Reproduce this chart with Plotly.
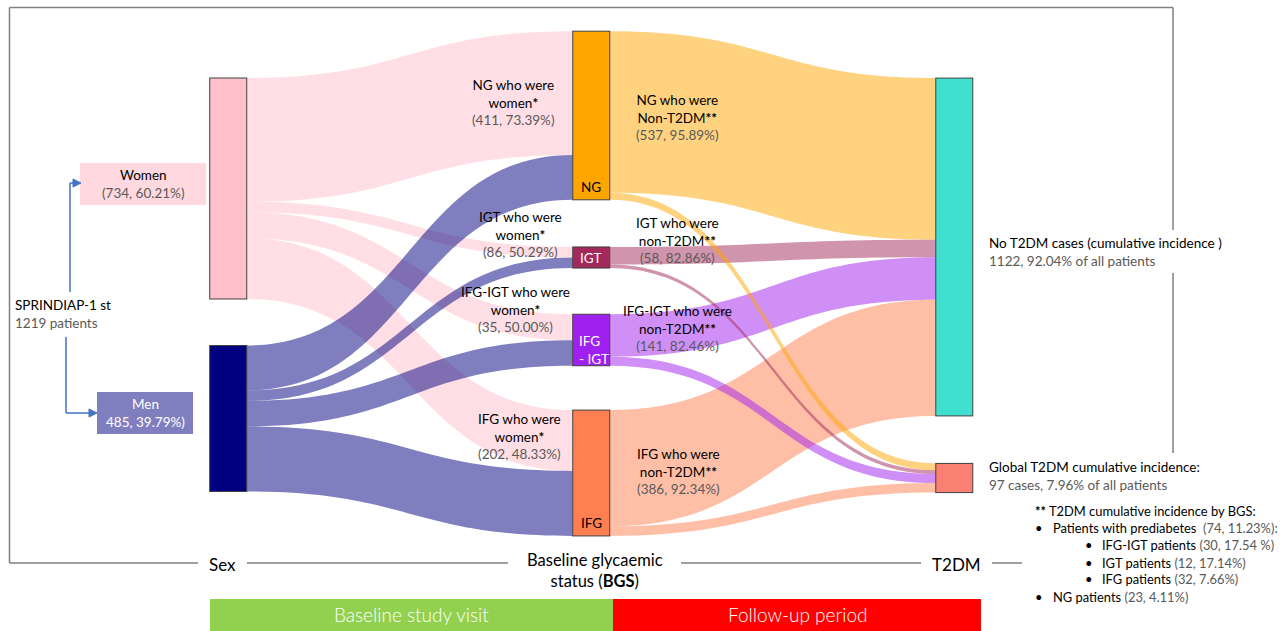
import plotly.graph_objects as go

W, H = 1280, 631

# ---------------- data ----------------
node_names = ["Women", "Men", "NG", "IGT", "IFG-IGT", "IFG", "No T2DM", "T2DM"]
sex_names = ["Women", "Men"]
sex_counts = [734, 485]
bgs_names = ["NG", "IGT", "IFG-IGT", "IFG"]
women_by_bgs = [411, 35, 86, 202]
men_by_bgs = [149, 35, 85, 216]
no_t2dm_by_bgs = [537, 58, 141, 386]
t2dm_by_bgs = [23, 12, 30, 32]

# label texts as printed on the chart
women_label_nums = ["(411, 73.39%)", "(86, 50.29%)", "(35, 50.00%)", "(202, 48.33%)"]
non_t2dm_label_nums = ["(537, 95.89%)", "(58, 82.86%)", "(141, 82.46%)", "(386, 92.34%)"]
sex_label_nums = ["(734, 60.21%)", "485, 39.79%)"]

node_colors = ["#FFC0CB", "#000080", "#FFA500", "#A3295C", "#A020F0", "#FF7F50", "#40E0D0", "#FA8072"]
src_link_colors = ["rgba(255,192,203,0.5)", "rgba(0,0,128,0.5)"]
bgs_link_colors = ["rgba(255,165,0,0.5)", "rgba(163,41,92,0.5)", "rgba(160,32,240,0.5)", "rgba(255,127,80,0.5)"]

# ---------------- links ----------------
sources, targets, values, lcolors = [], [], [], []
for si, counts in enumerate([women_by_bgs, men_by_bgs]):
    for bi, v in enumerate(counts):
        sources.append(si); targets.append(2 + bi); values.append(v); lcolors.append(src_link_colors[si])
for ti, counts in enumerate([no_t2dm_by_bgs, t2dm_by_bgs]):
    for bi, v in enumerate(counts):
        sources.append(2 + bi); targets.append(6 + ti); values.append(v); lcolors.append(bgs_link_colors[bi])

# ---------------- geometry helpers ----------------
def X(px):
    return px / W

def Y(py):
    return 1 - py / H

dom_top, dom_bot = 30, 535
dom_left, dom_right = 227.5, 955
dh = dom_bot - dom_top

def ny(center):
    return (center - dom_top) / dh

node_x = [0.001, 0.001, 0.5, 0.5, 0.5, 0.5, 0.999, 0.999]
node_y = [ny(188.5), ny(418.5), ny(115.5), ny(257.5), ny(340), ny(473), ny(247), ny(478)]

fig = go.Figure(go.Sankey(
    arrangement="fixed",
    domain=dict(x=[X(dom_left), X(dom_right)], y=[Y(dom_bot), Y(dom_top)]),
    node=dict(label=[""] * len(node_names), customdata=node_names, x=node_x, y=node_y,
              pad=46, thickness=37, color=node_colors,
              line=dict(color="#404040", width=1), hoverinfo="none"),
    link=dict(source=sources, target=targets, value=values, color=lcolors, hoverinfo="none"),
))

FONT = "Lato"
GRAY = "#595959"
annotations = []

def ann(x, y, text, size=14, color="black", xanchor="center", align="center", yanchor="middle", weight=None, **kw):
    f = dict(family=FONT, size=size, color=color)
    if weight is not None:
        f["weight"] = weight
    annotations.append(dict(x=X(x), y=Y(y), xref="paper", yref="paper", text=text, showarrow=False,
                            font=f, xanchor=xanchor, yanchor=yanchor, align=align, **kw))

def g(t):
    return "<span style='color:" + GRAY + "'>" + t + "</span>"

# left part
ann(13, 314, "SPRINDIAP-1 st<br>" + g("1219 patients"), size=13.5, xanchor="left", align="left")
ann(143, 184, "Women<br>" + g(sex_label_nums[0]), size=13.5)
ann(145, 413, "Men<br>" + sex_label_nums[1], size=13.5, color="white")

# node inner labels
ann(591, 187, "NG", size=13.5)
ann(591, 258, "IGT", size=13.5, color="white")
ann(577, 350, "IFG<br>- IGT", size=13.5, color="white", xanchor="left", align="left")
ann(591, 523, "IFG", size=13.5)

# flow labels (women)
women_centers = [(513, 102), (520, 234), (515, 309), (519, 436)]
for name, nums, (cx, cy) in zip(bgs_names, women_label_nums, women_centers):
    ann(cx, cy, name + " who were<br>women<b>*</b><br>" + g(nums), size=13.5)

non_centers = [(677, 117), (677, 240), (677, 329), (678, 471)]
non_words = ["Non-T2DM", "non-T2DM", "non-T2DM", "non-T2DM"]
for name, word, nums, (cx, cy) in zip(bgs_names, non_words, non_t2dm_label_nums, non_centers):
    ann(cx, cy, name + " who were<br>" + word + "<b>**</b><br>" + g(nums), size=13.5)

# right labels
ann(987, 252, "No T2DM cases (cumulative incidence )<br>" + g("1122, 92.04% of all patients"),
    size=13.5, xanchor="left", align="left")
ann(987, 476, "Global T2DM cumulative incidence:<br>" + g("97 cases, 7.96% of all patients"),
    size=13.5, xanchor="left", align="left")

LS = 12.9
ann(1033, 511, "<b>**</b> T2DM cumulative incidence by BGS:", size=LS, xanchor="left")
bul_rows = [
    (1033, 1051, 528, "Patients with prediabetes&nbsp; " + g("(74, 11.23%):")),
    (1083, 1100, 545, "IFG-IGT patients " + g("(30, 17.54 %)")),
    (1083, 1100, 563, "IGT patients " + g("(12, 17.14%)")),
    (1083, 1100, 579, "IFG patients " + g("(32, 7.66%)")),
    (1033, 1051, 597, "NG patients " + g("(23, 4.11%)")),
]
for bx, tx, yy, t in bul_rows:
    ann(bx, yy, "•", size=LS, xanchor="left")
    ann(tx, yy, t, size=LS, xanchor="left")

# axis labels
ann(222, 564, "Sex", size=17)
ann(595, 570, "Baseline glycaemic<br>status (<b>BGS</b>)", size=16.5)
ann(956, 564, "T2DM", size=17)

# bottom bars text
ann(411, 614, "Baseline study visit", size=19, color="white", weight=300)
ann(797, 614, "Follow-up period", size=19, color="white", weight=300)

# ---------------- shapes ----------------
shapes = []
FR = "#808080"

def line(x0, y0, x1, y1, color=FR, width=1.5):
    shapes.append(dict(type="line", xref="paper", yref="paper", x0=X(x0), y0=Y(y0), x1=X(x1), y1=Y(y1),
                       line=dict(color=color, width=width), layer="below"))

def rect(x0, y0, x1, y1, fill, layer="below"):
    shapes.append(dict(type="rect", xref="paper", yref="paper", x0=X(x0), y0=Y(y0), x1=X(x1), y1=Y(y1),
                       fillcolor=fill, line=dict(width=0), layer=layer))

# frame
line(9.5, 7.5, 1173, 7.5)
line(9.5, 7.5, 9.5, 563)
line(1173, 7.5, 1173, 230)
line(1173, 273, 1173, 453)
line(9.5, 563, 198, 563)
line(247, 563, 508, 563)
line(681, 563, 921, 563)
line(992, 563, 1022, 563)

# boxes for sex
rect(80, 163, 206, 205, "#FFD9DF")
rect(97, 392, 193, 434, "#7F7FBF")

# arrows
BL = "#4472C4"
line(70, 292, 70, 183, BL, 1.5)
line(70, 183, 74, 183, BL, 1.5)
line(66, 337, 66, 413, BL, 1.5)
line(66, 413, 90, 413, BL, 1.5)

def tri(xt, y):
    path = "M %f %f L %f %f L %f %f Z" % (X(xt), Y(y), X(xt - 8), Y(y - 4), X(xt - 8), Y(y + 4))
    shapes.append(dict(type="path", xref="paper", yref="paper", path=path, fillcolor=BL,
                       line=dict(color=BL, width=1), layer="below"))

tri(81, 183)
tri(97, 413)

# bottom bars
rect(210, 599, 613, 631, "#92D050")
rect(613, 599, 981, 631, "#FF0000")

fig.update_layout(
    width=W, height=H, margin=dict(l=0, r=0, t=0, b=0),
    paper_bgcolor="white", plot_bgcolor="white",
    annotations=annotations, shapes=shapes,
    font=dict(family=FONT),
)

fig.write_html("out.html", config={"displayModeBar": False},
               post_script="document.body.style.margin='0';document.body.style.overflow='hidden';")
